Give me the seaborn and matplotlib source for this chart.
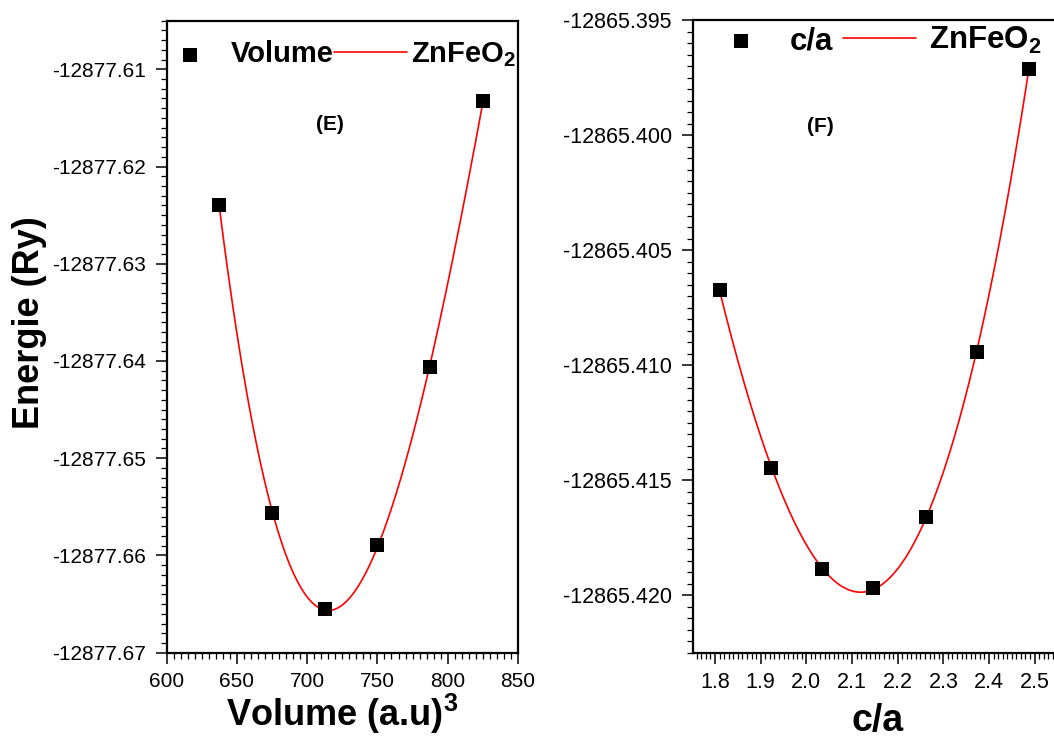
import numpy as np
import pandas as pd
import seaborn as sns
import matplotlib
matplotlib.use("Agg")
import matplotlib.pyplot as plt
from matplotlib.ticker import MultipleLocator, FormatStrFormatter

# ---------------- data ----------------
volume = [637.5, 675.0, 712.5, 750.0, 787.5, 825.0]
energy_volume = [-12877.6240, -12877.6556, -12877.6655, -12877.6589, -12877.6406, -12877.6133]

ca_ratio = [1.810, 1.923, 2.035, 2.147, 2.262, 2.374, 2.487]
energy_ca = [-12865.40674, -12865.41447, -12865.41885, -12865.41968,
             -12865.41660, -12865.40942, -12865.39714]

vol_ticks = [600, 650, 700, 750, 800, 850]
ca_ticks = [1.8, 1.9, 2.0, 2.1, 2.2, 2.3, 2.4, 2.5]

# ---------------- style ----------------
sns.set_style("ticks")
plt.rcParams["font.family"] = ["Liberation Sans", "DejaVu Sans"]
plt.rcParams["axes.unicode_minus"] = False
plt.rcParams["mathtext.fontset"] = "custom"
plt.rcParams["mathtext.rm"] = "Liberation Sans"
plt.rcParams["mathtext.it"] = "Liberation Sans:italic"
plt.rcParams["mathtext.bf"] = "Liberation Sans:bold"
for k in ["text.color", "axes.labelcolor", "xtick.color", "ytick.color",
          "axes.edgecolor", "xtick.labelcolor", "ytick.labelcolor"]:
    plt.rcParams[k] = "black"

fig = plt.figure(figsize=(10.54, 7.38), dpi=100)
axL = fig.add_axes([0.158, 0.1156, 0.3335, 0.8564])
axR = fig.add_axes([0.6572, 0.1156, 0.3504, 0.8573])


def fit_curve(x, y, deg=3, n=300):
    x = np.asarray(x, float)
    y = np.asarray(y, float)
    xm, ym = x.mean(), y.mean()
    p = np.polyfit(x - xm, y - ym, deg)
    xf = np.linspace(x.min(), x.max(), n)
    yf = np.polyval(p, xf - xm) + ym
    return pd.DataFrame({"x": xf, "y": yf})


def draw(ax, x, y, pt_label, fit_label):
    df = pd.DataFrame({"x": x, "y": y})
    fit = fit_curve(x, y)
    sns.scatterplot(data=df, x="x", y="y", ax=ax, marker="s", s=115,
                    color="black", edgecolor="black", linewidth=0,
                    label=pt_label, zorder=3)
    sns.lineplot(data=fit, x="x", y="y", ax=ax, color="red", lw=1.2,
                 label=fit_label, zorder=2)
    for s in ax.spines.values():
        s.set_linewidth(1.6)
        s.set_color("black")
    ax.tick_params(which="major", direction="out", length=8, width=1.1,
                   labelsize=15, pad=6, color="black", labelcolor="black")
    ax.tick_params(which="minor", direction="out", length=4.5, width=0.9,
                   color="black")
    ax.tick_params(top=False, right=False, which="both")
    ax.set_xlabel("")
    ax.set_ylabel("")


draw(axL, volume, energy_volume, "Volume", r"ZnFeO$_\mathbf{2}$")
draw(axR, ca_ratio, energy_ca, "c/a", r"ZnFeO$_\mathbf{2}$")

# left axes scales
axL.set_xlim(600, 850)
axL.set_ylim(-12877.67, -12877.605)
axL.set_xticks(vol_ticks)
axL.xaxis.set_minor_locator(MultipleLocator(5))
axL.yaxis.set_major_locator(MultipleLocator(0.01))
axL.yaxis.set_minor_locator(MultipleLocator(0.001))
axL.yaxis.set_major_formatter(FormatStrFormatter("%.2f"))
axL.tick_params(axis="y", pad=7)

# right axes scales
axR.set_xlim(1.751, 2.56)
axR.set_ylim(-12865.4225, -12865.395)
axR.set_xticks(ca_ticks)
axR.xaxis.set_major_formatter(FormatStrFormatter("%.1f"))
axR.xaxis.set_minor_locator(MultipleLocator(0.01))
axR.yaxis.set_major_locator(MultipleLocator(0.005))
axR.yaxis.set_minor_locator(MultipleLocator(0.0005))
axR.yaxis.set_major_formatter(FormatStrFormatter("%.3f"))
axR.tick_params(axis="both", labelsize=15.5)
axR.tick_params(axis="y", pad=7)

# axis labels
axL.set_ylabel("Energie (Ry)", fontsize=26, fontweight="bold", color="black")
axL.yaxis.set_label_coords(-0.34, 0.522)
axL.set_xlabel(r"Volume (a.u)$^\mathbf{3}$", fontsize=26, fontweight="bold",
               color="black")
axL.xaxis.set_label_coords(0.5, -0.062)
axR.set_xlabel("c/a", fontsize=27, fontweight="bold", color="black")
axR.xaxis.set_label_coords(0.5, -0.079)

# panel tags
axL.text(0.465, 0.835, "(E)", transform=axL.transAxes, fontsize=15,
         fontweight="bold", ha="center", va="center", color="black")
axR.text(0.345, 0.831, "(F)", transform=axR.transAxes, fontsize=15,
         fontweight="bold", ha="center", va="center", color="black")

# legends
h, l = axL.get_legend_handles_labels()
axL.legend(h, l, ncol=2, frameon=False, loc="center left",
           bbox_to_anchor=(-0.036, 0.946), borderaxespad=0, borderpad=0,
           handlelength=2.5, handletextpad=0.15, columnspacing=0.0,
           labelcolor="black", prop={"size": 21, "weight": "bold"})
h, l = axR.get_legend_handles_labels()
axR.legend(h, l, ncol=2, frameon=False, loc="center left",
           bbox_to_anchor=(0.0306, 0.967), borderaxespad=0, borderpad=0,
           handlelength=2.35, handletextpad=0.4, columnspacing=0.3,
           labelcolor="black", prop={"size": 22.5, "weight": "bold"})

fig.savefig("out.png", dpi=100, facecolor="white")
